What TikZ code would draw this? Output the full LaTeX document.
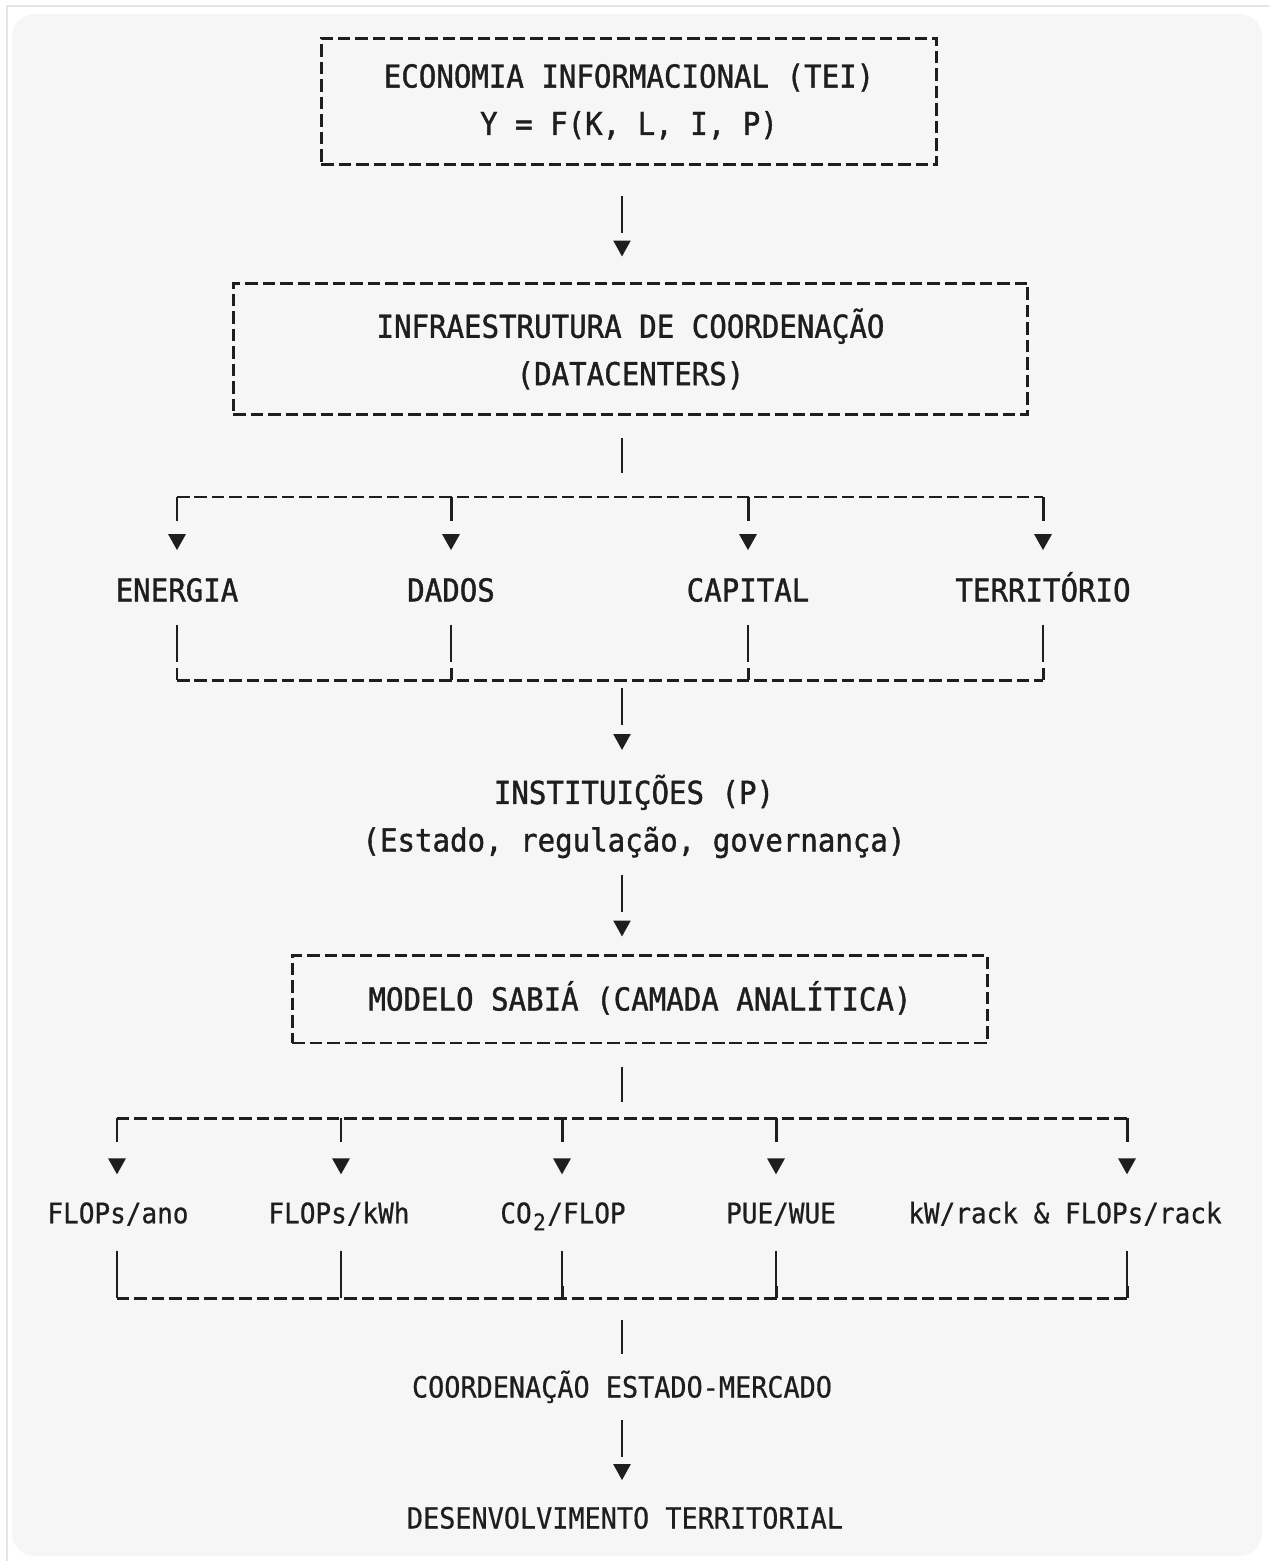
\documentclass[tikz,border=0pt]{standalone}
\usepackage{fontspec}
\newfontfamily\diagfont[FakeStretch=0.92, FakeBold=1.2]{DejaVu Sans Mono}
\newfontfamily\diaglight[FakeStretch=0.92, FakeBold=0.6]{DejaVu Sans Mono}
\usetikzlibrary{arrows.meta, calc}
\definecolor{ink}{HTML}{1E1E1E}
\definecolor{paper}{HTML}{F6F6F6}
\newcommand\subtwo{\makebox[8.9pt]{\raisebox{-0.45ex}{\fontsize{13}{13}\selectfont 2}}}
\tikzset{
  block/.style = {draw=ink, line width=1.7pt, dash pattern=on 0.25cm off 0.1cm},
  bigtxt/.style = {font=\diagfont\fontsize{18}{27}\selectfont, text=ink, align=center, inner sep=0pt},
  midtxt/.style = {font=\diaglight\fontsize{16.6}{22}\selectfont, text=ink, inner sep=0pt, text height=0.42cm, text depth=0pt},
  smalltxt/.style = {font=\diaglight\fontsize{16.1}{22}\selectfont, text=ink, inner sep=0pt, text height=0.41cm, text depth=0pt},
  oneline/.style = {text height=0.46cm, text depth=0pt},
  wire/.style = {draw=ink, line width=1.3pt},
  bus/.style = {draw=ink, line width=1.7pt, dash pattern=on 0.25cm off 0.1cm},
  flow/.style = {wire, -{Triangle[width=0.34cm,length=0.32cm]}, dash pattern=on 0.74cm off 4cm},
  tick/.style = {bus, -{Triangle[width=0.34cm,length=0.32cm]}, dash pattern=on 0.48cm off 4cm, shorten >=0.56cm}
}

\begin{document}
\begin{tikzpicture}[x=0.02cm, y=-0.02cm]
\useasboundingbox (0,0) rectangle (1269,1561);
\fill[white] (0,0) rectangle (1269,1561);
\draw[black!10, line width=0.8pt] (7,1561) -- (7,6) -- (1269,6);
\fill[paper, rounded corners=0.45cm] (12,14) rectangle (1262,1556);

% main column
\node (tei) [block, bigtxt, minimum width=12.32cm, minimum height=2.54cm] at (629,101.5) {ECONOMIA INFORMACIONAL (TEI)\\Y = F(K, L, I, P)};
\node (infra) [block, bigtxt, minimum width=15.9cm, minimum height=2.64cm] at (630.5,349) {INFRAESTRUTURA DE COORDENAÇÃO\\(DATACENTERS)};
\node (inst) [bigtxt] at (634,816.5) {INSTITUIÇÕES (P)\\(Estado, regulação, governança)};
\node (sabia) [block, bigtxt, oneline, minimum width=13.92cm, minimum height=1.76cm] at (640,999) {MODELO SABIÁ (CAMADA ANALÍTICA)};
\node (coord) [midtxt] at (622,1387) {COORDENAÇÃO ESTADO-MERCADO};
\node (desenv) [midtxt] at (625,1518) {DESENVOLVIMENTO TERRITORIAL};

\coordinate (col) at (622,0);
\coordinate (busA) at (622,497);
\coordinate (busB) at (622,680);
\coordinate (busC) at (622,1118);
\coordinate (busD) at (622,1298);

% resources row
\node (energia) [bigtxt, oneline] at (177,590) {ENERGIA};
\node (dados) [bigtxt, oneline] at (451,590) {DADOS};
\node (capital) [bigtxt, oneline] at (748,590) {CAPITAL};
\node (terr) [bigtxt, oneline] at (1043,590) {TERRITÓRIO};

% metrics row
\node (fano) [smalltxt] at (118,1213) {FLOPs/ano};
\node (fkwh) [smalltxt] at (339,1213) {FLOPs/kWh};
\node (co2) [smalltxt] at (563,1213) {CO\subtwo/FLOP};
\node (pue) [smalltxt] at (781,1213) {PUE/WUE};
\node (rack) [smalltxt] at (1065,1213) {kW/rack \& FLOPs/rack};

% main flow
\draw [flow] ($(col |- tei.south)+(0,30)$) -- ($(col |- infra.north)+(0,-25)$);
\draw [wire] ($(col |- infra.south)+(0,22)$) -- ($(busA)+(0,-24)$);
\draw [flow] ($(busB)+(0,8)$) -- ($(inst.center -| col)+(0,-66.5)$);
\draw [flow] ($(inst.center -| col)+(0,58.5)$) -- ($(col |- sabia.north)+(0,-17)$);
\draw [wire] ($(col |- sabia.south)+(0,23)$) -- ($(busC)+(0,-16)$);
\draw [wire] ($(busD)+(0,22)$) -- ($(col |- coord.north)+(0,-22)$);
\draw [flow] ($(col |- coord.south)+(0,22)$) -- ($(col |- desenv.north)+(0,-27)$);

% split and join of resources
\draw [bus] (energia |- busA) -- (terr |- busA);
\draw [bus] (energia |- busB) -- (terr |- busB);
\foreach \n in {energia, dados, capital, terr} {
  \draw [tick] (\n |- busA) -- (\n.north);
  \draw [wire] ($(\n.south)+(0,23.5)$) -- ($(\n.south)+(0,60.5)$);
  \draw [bus] ($(\n |- busB)+(0,-12)$) -- (\n |- busB);
}

% split and join of metrics
\foreach \n/\x in {fano/117, fkwh/341, co2/562, pue/776, rack/1127} {
  \coordinate (\n-top) at (\x,1118);
  \draw [tick] (\n-top) -- (\n-top |- \n.north);
  \draw [wire] ($(\n-top |- \n.south)+(0,27)$) -- ($(\n-top |- \n.south)+(0,62)$);
  \draw [bus] ($(\n-top |- busD)+(0,-12)$) -- (\n-top |- busD);
}
\draw [bus] (fano-top) -- (rack-top);
\draw [bus] (fano-top |- busD) -- (rack-top |- busD);
\end{tikzpicture}
\end{document}
